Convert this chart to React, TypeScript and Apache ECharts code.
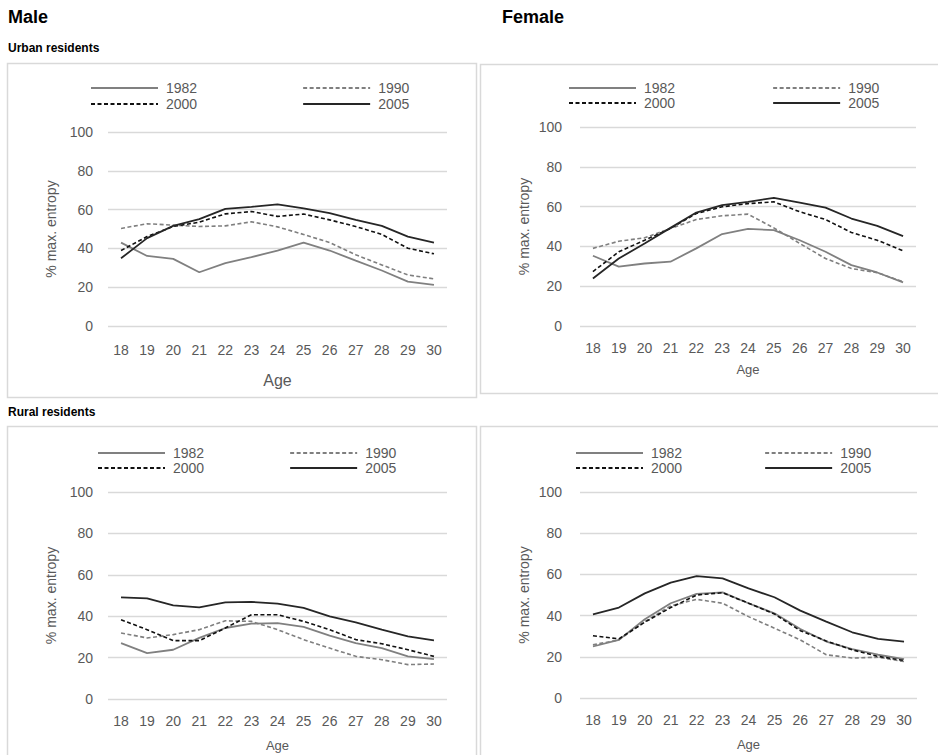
import React, { useEffect, useRef } from "react";
import * as echarts from "echarts";

const ages = ["18", "19", "20", "21", "22", "23", "24", "25", "26", "27", "28", "29", "30"];
const years = ["1982", "1990", "2000", "2005"];

// Male, urban residents
const maleUrban1982 = [43, 36.1, 34.6, 27.7, 32.4, 35.5, 38.9, 43, 38.9, 33.7, 28.6, 22.9, 21.2];
const maleUrban1990 = [50.3, 52.7, 52, 51.3, 51.6, 53.7, 51.1, 47.2, 43, 36.7, 31.5, 26.3, 24.3];
const maleUrban2000 = [38.9, 46.1, 51.3, 53.5, 57.8, 59, 56.5, 57.7, 54.7, 51.3, 47.2, 40.1, 37.2];
const maleUrban2005 = [34.9, 45.3, 51.6, 55.1, 60.4, 61.4, 62.7, 60.6, 58.2, 54.7, 51.6, 46.1, 43];

// Female, urban residents
const femaleUrban1982 = [35.3, 29.8, 31.4, 32.3, 39, 46.2, 48.8, 48.2, 43.1, 37.3, 30.6, 26.9, 21.9];
const femaleUrban1990 = [39, 42.6, 44.3, 49, 53.5, 55.4, 56.2, 49.3, 41.5, 33.9, 28.9, 26.8, 22.2];
const femaleUrban2000 = [27.3, 37.3, 43.1, 49, 56.5, 59.9, 61.5, 62.4, 57.4, 53.5, 47, 43.1, 37.8];
const femaleUrban2005 = [23.9, 33.9, 41.5, 49.3, 57, 60.7, 62.4, 64.4, 62, 59.5, 54, 50.3, 45.2];

// Male, rural residents
const maleRural1982 = [27, 22.2, 23.8, 29.5, 34.3, 36.4, 36.7, 34.8, 30.6, 27, 24.6, 20.6, 19.3];
const maleRural1990 = [31.9, 29.5, 31.1, 33.5, 37.8, 37.5, 33.5, 28.7, 24.6, 20.6, 19, 16.6, 16.9];
const maleRural2000 = [38.3, 33.5, 28.2, 28.2, 34.3, 40.7, 40.7, 37.5, 33.5, 28.7, 26.7, 23.8, 20.6];
const maleRural2005 = [49.1, 48.6, 45.2, 44.3, 46.7, 46.9, 46.1, 44, 39.9, 37, 33.5, 30.3, 28.3];

// Female, rural residents
const femaleRural1982 = [25, 28.2, 38.2, 46, 50.5, 51.3, 46, 41.1, 33.5, 27.4, 23.7, 21, 18.9];
const femaleRural1990 = [25.8, 28.2, 37.1, 44.7, 47.9, 46, 39.5, 33.9, 28.2, 21, 19.4, 19.8, 17.7];
const femaleRural2000 = [30.2, 28.7, 36.8, 43.9, 50, 51.1, 46, 40.8, 32.7, 27.7, 23.4, 20.2, 18.2];
const femaleRural2005 = [40.6, 43.9, 50.8, 56, 59.2, 58.1, 53.2, 48.9, 42.4, 37.1, 31.9, 28.7, 27.4];

const yTicks = [0, 20, 40, 60, 80, 100];

const FONT = "'Liberation Sans', Arial, Helvetica, sans-serif";
const LABEL = "#595959";
const GRID = "#d9d9d9";

const seriesStyles = [
  { color: "#808080", type: "solid" as any, width: 1.8 },
  { color: "#7f7f7f", type: [4, 2.5] as any, width: 1.6 },
  { color: "#111111", type: [4, 2.5] as any, width: 1.6 },
  { color: "#262626", type: "solid" as any, width: 1.8 },
];

const panels = [
  {
    data: [maleUrban1982, maleUrban1990, maleUrban2000, maleUrban2005],
    grid: { left: 108, top: 132, width: 339, height: 194 },
    legend: { left: 90, col2: 303, rows: [88, 104] },
    xLabelMargin: 17,
    ageSize: 16,
    ageGap: 46,
    yNameGap: 50,
    yLabelMargin: 15,
  },
  {
    data: [femaleUrban1982, femaleUrban1990, femaleUrban2000, femaleUrban2005],
    grid: { left: 580, top: 127, width: 336, height: 199 },
    legend: { left: 568, col2: 773, rows: [88, 103] },
    xLabelMargin: 15,
    ageSize: 13,
    ageGap: 37,
    yNameGap: 49,
    yLabelMargin: 18,
  },
  {
    data: [maleRural1982, maleRural1990, maleRural2000, maleRural2005],
    grid: { left: 108, top: 492, width: 339, height: 207 },
    legend: { left: 97, col2: 290, rows: [453, 468] },
    xLabelMargin: 15,
    ageSize: 13,
    ageGap: 40,
    yNameGap: 50,
    yLabelMargin: 15,
  },
  {
    data: [femaleRural1982, femaleRural1990, femaleRural2000, femaleRural2005],
    grid: { left: 580, top: 492, width: 337, height: 206 },
    legend: { left: 575, col2: 765, rows: [453, 468] },
    xLabelMargin: 15,
    ageSize: 13,
    ageGap: 40,
    yNameGap: 49,
    yLabelMargin: 18,
  },
];

export default function App() {
  const ref = useRef<HTMLDivElement>(null);

  useEffect(() => {
    if (!ref.current) return;
    const chart = echarts.init(ref.current, undefined, { renderer: "svg" });

    const grids: any[] = [];
    const xAxes: any[] = [];
    const yAxes: any[] = [];
    const series: any[] = [];
    const legends: any[] = [];

    const legendTextW = 36;
    const legendIconW = 67;

    panels.forEach((p, i) => {
      grids.push({ ...p.grid, containLabel: false });
      xAxes.push({
        type: "category",
        gridIndex: i,
        data: ages,
        boundaryGap: true,
        axisLine: { show: false },
        axisTick: { show: false },
        axisLabel: { color: LABEL, fontSize: 14, fontFamily: FONT, margin: p.xLabelMargin },
        name: "Age",
        nameLocation: "middle",
        nameGap: p.ageGap,
        nameTextStyle: { color: LABEL, fontSize: p.ageSize, fontFamily: FONT },
      });
      yAxes.push({
        type: "value",
        gridIndex: i,
        min: yTicks[0],
        max: yTicks[yTicks.length - 1],
        interval: 20,
        axisLine: { show: false },
        axisTick: { show: false },
        splitLine: { show: true, lineStyle: { color: GRID, width: 1.3 } },
        axisLabel: { color: LABEL, fontSize: 14, fontFamily: FONT, margin: p.yLabelMargin },
        name: "% max. entropy",
        nameLocation: "middle",
        nameGap: p.yNameGap,
        nameTextStyle: { color: LABEL, fontSize: 14, fontFamily: FONT },
      });
      p.data.forEach((vals, k) => {
        const st = seriesStyles[k];
        series.push({
          type: "line",
          name: years[k],
          xAxisIndex: i,
          yAxisIndex: i,
          data: vals,
          symbol: "none",
          showSymbol: false,
          smooth: false,
          color: st.color,
          lineStyle: { color: st.color, type: st.type, width: st.width },
          z: 2 + k,
        });
      });
      const gap = p.legend.col2 - p.legend.left - legendIconW - 5 - legendTextW;
      [[years[0], years[1]], [years[2], years[3]]].forEach((names, r) => {
        legends.push({
          data: names,
          left: p.legend.left,
          top: p.legend.rows[r] - 7,
          orient: "horizontal",
          itemWidth: legendIconW,
          itemHeight: 14,
          itemGap: gap,
          padding: 0,
          selectedMode: false,
          itemStyle: { opacity: 0, color: "transparent", borderWidth: 0 },
          textStyle: {
            color: LABEL,
            fontSize: 14,
            fontFamily: FONT,
            width: legendTextW,
            padding: [0, 0, 0, 3],
          },
        });
      });
    });

    const box = (x: number, y: number, w: number, h: number) => ({
      type: "rect",
      shape: { x, y, width: w, height: h },
      style: { fill: "none", stroke: GRID, lineWidth: 1.5 },
      silent: true,
      z: -1,
    });

    const text = (t: string, x: number, y: number, size: number) => ({
      type: "text",
      x,
      y,
      style: {
        text: t,
        fill: "#000",
        font: `bold ${size}px ${FONT}`,
        textVerticalAlign: "middle",
        textAlign: "left",
      },
      silent: true,
    });

    chart.setOption({
      animation: false,
      backgroundColor: "#ffffff",
      grid: grids,
      xAxis: xAxes,
      yAxis: yAxes,
      legend: legends,
      series,
      graphic: [
        box(7.5, 63.5, 469, 334),
        box(480.5, 64.5, 460, 329),
        box(7.5, 426.5, 469, 340),
        box(480.5, 426.5, 460, 340),
        text("Male", 8, 17, 18),
        text("Female", 502, 17, 18),
        text("Urban residents", 8, 48, 12),
        text("Rural residents", 8, 412, 12),
      ],
    });

    return () => chart.dispose();
  }, []);

  return (
    <div
      ref={ref}
      style={{ position: "absolute", left: 0, top: 0, width: 938, height: 755 }}
    />
  );
}
